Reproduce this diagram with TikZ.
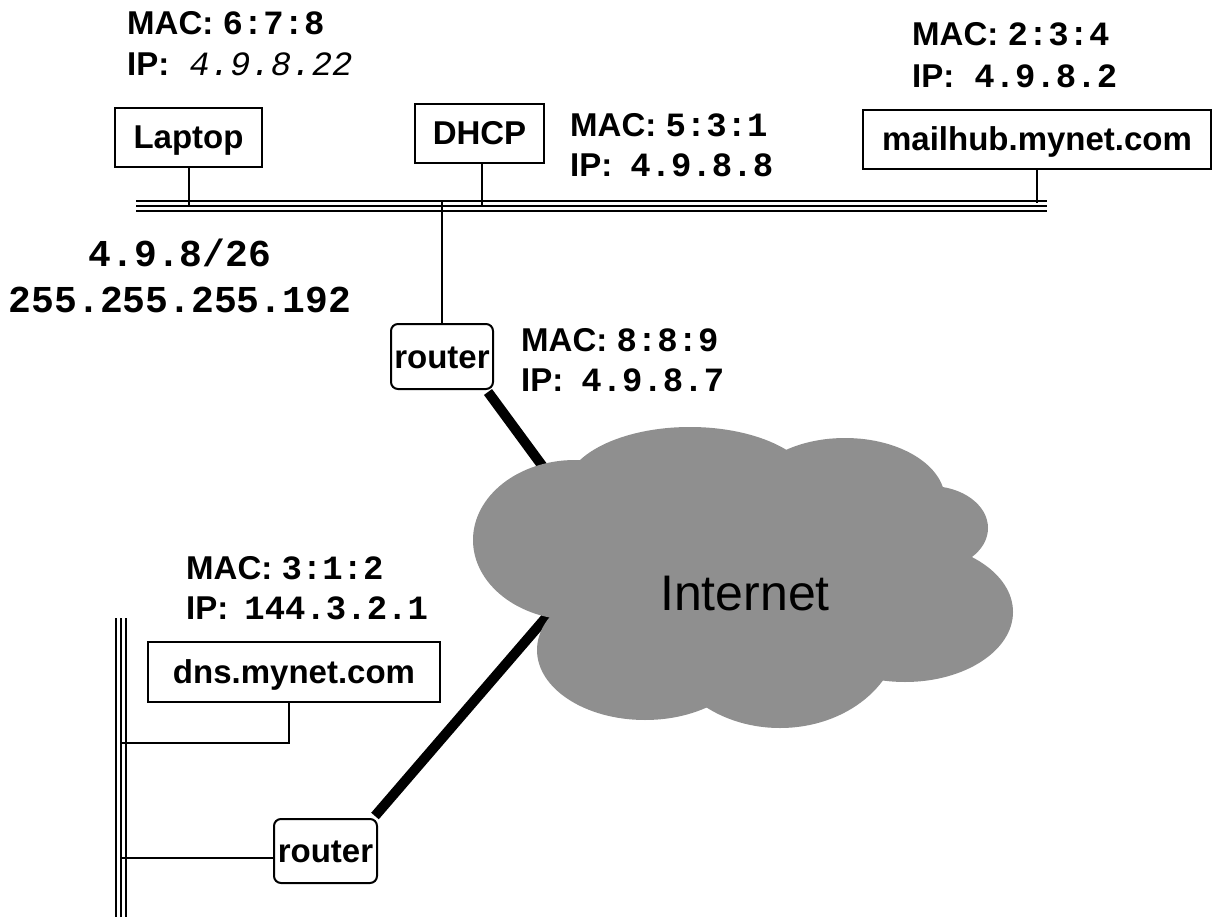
\documentclass[tikz,border=0pt]{standalone}
\usepackage{fontspec}
\setmainfont{Liberation Sans}
\newfontfamily\monofam{Liberation Mono}
\usetikzlibrary{backgrounds}
\definecolor{cloudgray}{HTML}{8F8F8F}
\newcommand\valb[1]{{\monofam\bfseries\fontsize{34}{36}\selectfont #1}}
\newcommand\vali[1]{{\monofam\mdseries\itshape\fontsize{34}{36}\selectfont #1}}
\tikzset{
  lbl/.style={font=\fontsize{33}{36}\selectfont\bfseries, anchor=base west, inner sep=0pt},
  hostbox/.style={draw, fill=white, line width=2pt, inner sep=0pt,
    font=\fontsize{33}{36}\selectfont\bfseries, text height=23pt, text depth=0pt,
    minimum height=59pt},
  routerbox/.style={hostbox, rounded corners=7pt},
  wire/.style={line width=2pt},
  trunk/.style={line width=10pt},
  busline/.style={line width=12pt,
    postaction={draw, white, line width=8pt},
    postaction={draw, black, line width=2pt}},
  subnet/.style={font=\monofam\bfseries\fontsize{38}{40}\selectfont, anchor=base, inner sep=0pt},
}
\begin{document}
\begin{tikzpicture}[x=1pt,y=-1pt]
\useasboundingbox (0,0) rectangle (1212,917);

% cloud
\begin{scope}[cloudgray]
\fill (575,540) ellipse [x radius=102pt, y radius=80pt];
\fill (690,490) ellipse [x radius=125pt, y radius=63pt];
\fill (845,500) ellipse [x radius=100pt, y radius=62pt];
\fill (930,528) ellipse [x radius=58pt, y radius=42pt];
\fill (905,612) ellipse [x radius=108pt, y radius=70pt];
\fill (780,630) ellipse [x radius=120pt, y radius=98pt];
\fill (645,650) ellipse [x radius=108pt, y radius=70pt];
\fill (760,580) ellipse [x radius=190pt, y radius=100pt];
\end{scope}
\node[font=\fontsize{50}{54}\selectfont, anchor=base, inner sep=0pt] (inet) at (745,610) {Internet};

% buses
\coordinate (hbL) at (136,206);
\coordinate (hbR) at (1047,206);
\coordinate (vbT) at (121,618);
\coordinate (vbB) at (121,917);
\draw[busline] (hbL) -- (hbR);
\draw[busline] (vbT) -- (vbB);

% hosts
\node[hostbox, minimum width=147pt] (laptop) at (188.5,137.5) {Laptop};
\node[hostbox, minimum width=129pt] (dhcp) at (479.5,133.5) {DHCP};
\node[hostbox, minimum width=348pt] (mailhub) at (1037,139.5) {mailhub.mynet.com};
\node[hostbox, minimum width=292pt, minimum height=60pt] (dns) at (294,672) {dns.mynet.com};
\node[routerbox, minimum width=102pt, minimum height=65pt] (router1) at (442,356.5) {router};
\node[routerbox, minimum width=103pt, minimum height=64pt] (router2) at (325.5,851) {router};

% labels
\node[lbl] (lapmac) at (127,35) {MAC: \valb{6:7:8}};
\node[lbl] (lapip) at (127,76) {IP:\hspace{20pt}\vali{4.9.8.22}};
\node[lbl] (dhcpmac) at (570,137) {MAC: \valb{5:3:1}};
\node[lbl] (dhcpip) at (570,177) {IP:\hspace{18pt}\valb{4.9.8.8}};
\node[lbl] (mailmac) at (912,46) {MAC: \valb{2:3:4}};
\node[lbl] (mailip) at (912,88) {IP:\hspace{20pt}\valb{4.9.8.2}};
\node[lbl] (r1mac) at (521,351) {MAC: \valb{8:8:9}};
\node[lbl] (r1ip) at (521,391) {IP:\hspace{18pt}\valb{4.9.8.7}};
\node[lbl] (dnsmac) at (186,579) {MAC: \valb{3:1:2}};
\node[lbl] (dnsip) at (186,619) {IP:\hspace{16pt}\valb{144.3.2.1}};
\node[subnet] (net) at (180,267) {4.9.8/26};
\node[subnet] (mask) at (180,312) {255.255.255.192};

% stems
\coordinate (tap) at (442,201);
\coordinate (dnsjoin) at (121,743);
\coordinate (r2join) at (121,858);
\draw[wire] (laptop.south) -- (laptop.south |- hbL);
\draw[wire] ([xshift=2.5pt]dhcp.south) -- ([xshift=2.5pt]dhcp.south |- hbL);
\draw[wire] (mailhub.south) -- ([yshift=3pt]mailhub.south |- hbL);
\draw[wire] (tap) -- (router1.north);
\draw[wire] ([xshift=-5pt]dns.south) |- (dnsjoin);
\draw[wire] (r2join) -- (router2.west |- r2join);

% trunks to the cloud
\coordinate (cA) at (549,475);
\coordinate (cB) at (549,614);
\begin{scope}[on background layer]
\draw[trunk] ([xshift=-6pt,yshift=-2pt]router1.south east) -- (cA);
\draw[trunk] ([xshift=-3pt,yshift=2pt]router2.north east) -- (cB);
\end{scope}
\end{tikzpicture}
\end{document}
